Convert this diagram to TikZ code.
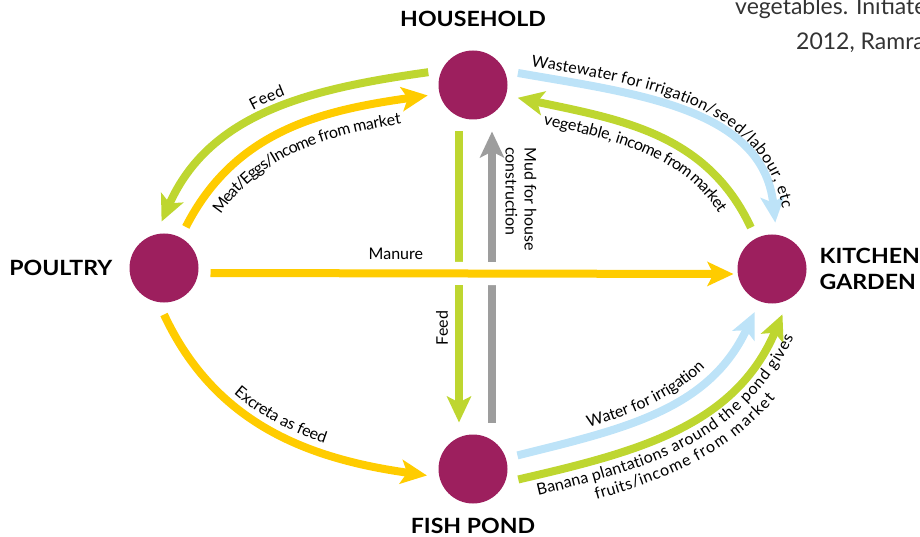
\documentclass[tikz,border=0pt]{standalone}
\usepackage{fontspec}
\setmainfont{Lato}
\newfontfamily\headfont{Lato}[FakeStretch=1.1]
\usetikzlibrary{arrows.meta,positioning,decorations.text}

\definecolor{unitpurple}{RGB}{157,31,94}
\definecolor{flowyellow}{RGB}{255,204,0}
\definecolor{flowgreen}{RGB}{190,214,48}
\definecolor{flowblue}{RGB}{189,227,248}
\definecolor{flowgrey}{RGB}{157,157,157}

\newcommand{\lblfont}{\fontsize{16}{19}\selectfont}

\tikzset{
  unit/.style={circle, fill=unitpurple, minimum size=69pt, inner sep=0pt, outer sep=12pt},
  heading/.style={font=\headfont\bfseries\fontsize{21}{26}\selectfont, inner sep=0pt},
  flow/.style={line width=8pt},
  fwd/.style={-{Stealth[length=26pt,width=24pt,inset=6pt]}},
  bwd/.style={{Stealth[length=26pt,width=24pt,inset=6pt]}-},
  ontext/.style 2 args={postaction={decorate, decoration={text along path,
      text align=center, raise=#1, text color=black, text={|\lblfont|#2}}}}
}

\begin{document}
\begin{tikzpicture}[x=1pt,y=1pt]
	\useasboundingbox (0,0) rectangle (920,536);
	% the four parts of the farm
	\node[unit] (household) at (473,451) {};
	\node[unit] (poultry) at (164,268) {};
	\node[unit] (kitchen) at (772,267) {};
	\node[unit] (fishpond) at (473,67) {};
	\node[heading, above=11.5pt of household] (householdlbl) {HOUSEHOLD};
	\node[heading, left=5pt of poultry] (poultrylbl) {POULTRY};
	\node[heading, right=1pt of kitchen, align=left] (kitchenlbl) {KITCHEN\\GARDEN};
	\node[heading, below=2pt of fishpond] (fishpondlbl) {FISH POND};
	% cut off text of the page
	\node[anchor=base west, inner sep=0pt, black!80, font=\fontsize{23}{27}\selectfont] (notea) at (735,521) {vegetables. Initiated};
	\node[anchor=base west, inner sep=0pt, black!80, font=\fontsize{23}{27}\selectfont] (noteb) at (796,486) {2012, Ramra};
	% household <-> fish pond
	\draw[flow, flowgreen, fwd] ([xshift=-14pt]household.south) -- ([xshift=-14pt]fishpond.north);
	\draw[flow, flowgrey, fwd] ([xshift=19pt]fishpond.north) -- ([xshift=19pt]household.south);
	\node[rotate=90, font=\lblfont] (feedvlbl) at (442,208) {Feed};
	\node[rotate=-90, align=left, font=\lblfont] (mudlbl) at (521,337) {Mud for house\\construction};
	% manure, with a gap in the vertical flows
	\draw[white, line width=23pt, shorten <=200pt, shorten >=180pt] ([yshift=-5pt]poultry.east) -- ([yshift=-5pt]kitchen.west);
	\draw[flow, flowyellow, fwd, shorten >=-8pt] ([yshift=-5pt]poultry.east) -- node[pos=0.36, above=6pt, font=\lblfont, black] (manurelbl) {Manure} ([yshift=-5pt]kitchen.west);
	% poultry <-> household
	\draw[flow, flowgreen, bwd, ontext={9pt}{Feed}] (poultry.93) to[out=66, in=188] (household.164);
	\draw[flow, flowyellow, fwd, ontext={-24pt}{Meat/Eggs/Income from market}] (poultry.62) to[out=63, in=188] (household.193);
	% household <-> kitchen garden
	\draw[flow, flowblue, fwd, ontext={9pt}{Wastewater for irrigation/seed/labour, etc}] (household.15) to[out=-10, in=96] (kitchen.86);
	\draw[flow, flowgreen, bwd, ontext={-21pt}{vegetable, income from market}] (household.-16) to[out=-12, in=115] (kitchen.117);
	% poultry -> fish pond -> kitchen garden
	\draw[flow, flowyellow, fwd, ontext={9pt}{Excreta as feed}] (poultry.270) to[out=-65, in=172] (fishpond.188);
	\draw[flow, flowblue, fwd, ontext={9pt}{Water for irrigation}] (fishpond.17) to[out=14, in=245] (kitchen.248);
	\draw[flow, flowgreen, fwd, ontext={-20pt}{Banana plantations around the pond gives}, ontext={-38pt}{fruits/income from market}] (fishpond.-13) to[out=13, in=247] (kitchen.283);
\end{tikzpicture}
\end{document}
